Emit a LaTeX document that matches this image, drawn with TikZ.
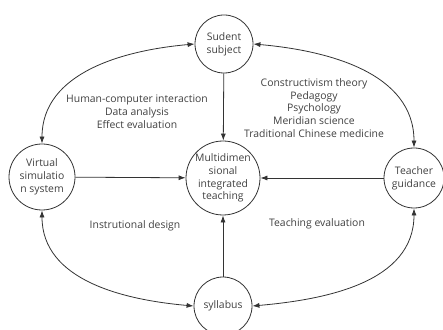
\documentclass[tikz,border=0pt]{standalone}
\usepackage{fontspec}
\setmainfont{Open Sans}
\usetikzlibrary{arrows.meta}

\begin{document}
\begin{tikzpicture}[x=1pt,y=1pt,>={Latex[length=7pt,width=5pt]},
  every node/.style={font=\fontsize{10.4}{12.8}\selectfont,text=black!75,align=center},
  ball/.style={draw=black!80,line width=0.8pt,circle,inner sep=0pt},
  link/.style={draw=black!80,line width=0.8pt}]
\useasboundingbox (0,0) rectangle (443,329);
% the five circles
\node[ball,minimum size=58pt] (subject) at (224,285) {Sudent\\subject};
\node[ball,minimum size=66pt] (virtual) at (42,152) {Virtual\\simulatio\\n system};
\node[ball,minimum size=74pt] (center) at (223,151) {Multidimen\\sional\\integrated\\teaching};
\node[ball,minimum size=60pt] (teacher) at (414,151) {Teacher\\guidance};
\node[ball,minimum size=58pt] (syllabus) at (223,23) {syllabus};
% labels
\node (hci) at (137,217) {Human-computer interaction\\Data analysis\\Effect evaluation};
\node (theory) at (314,221) {Constructivism theory\\Pedagogy\\Psychology\\Meridian science\\Traditional Chinese medicine};
\node (design) at (135,103) {Instrutional design};
\node (evaluation) at (317,105) {Teaching evaluation};
% straight arrows into the middle
\draw[link,->] (subject) -- (center);
\draw[link,->] (virtual) -- (center);
\draw[link,->] (teacher) -- (center);
\draw[link,->] (syllabus) -- (center);
% curved arrows round the outside
\draw[link,<->] (subject.west) to[out=185,in=90] (virtual.north);
\draw[link,<->] (subject.east) to[out=-5,in=90] (teacher.north);
\draw[link,<->] (virtual.south) to[out=-90,in=175] (syllabus.west);
\draw[link,<->] (syllabus.east) to[out=5,in=-90] (teacher.south);
\end{tikzpicture}
\end{document}
